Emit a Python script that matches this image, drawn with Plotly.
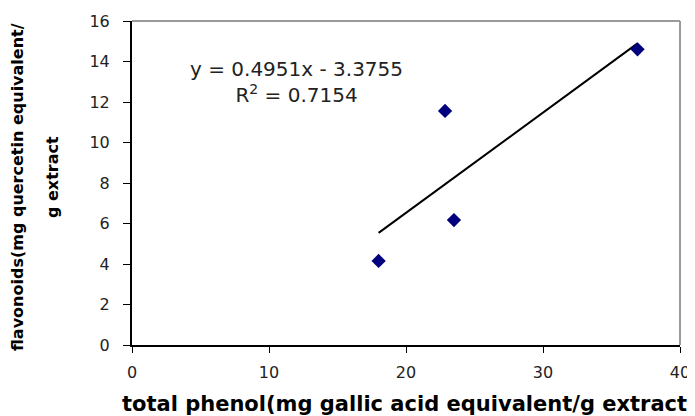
import numpy as np
import plotly.graph_objects as go

# Data
total_phenol = [18.0, 22.85, 23.5, 36.9]
flavonoids = [4.15, 11.56, 6.17, 14.6]

slope = 0.4951
intercept = -3.3755
r_squared = 0.7154

x_ticks = [0, 10, 20, 30, 40]
y_ticks = [0, 2, 4, 6, 8, 10, 12, 14, 16]

x_title = "total phenol(mg gallic acid equivalent/g extract"
y_title_1 = "flavonoids(mg quercetin equivalent/"
y_title_2 = "g extract"

trend_x = np.array([min(total_phenol), max(total_phenol)])
trend_y = slope * trend_x + intercept

# plot area in window pixels: left 132, right 680, top 21, bottom 345
PL, PR, PT, PB = 132, 680, 21, 345
PW, PH = PR - PL, PB - PT


def px(xp):
    return (xp - PL) / PW


def py(yp):
    return (PB - yp) / PH


fig = go.Figure()
fig.add_trace(go.Scatter(
    x=trend_x, y=trend_y, mode="lines",
    line=dict(color="black", width=2), showlegend=False, hoverinfo="skip"))
fig.add_trace(go.Scatter(
    x=total_phenol, y=flavonoids, mode="markers",
    marker=dict(symbol="diamond", size=11, color="#00007f"),
    showlegend=False))

fig.update_layout(
    width=695, height=416,
    margin=dict(l=PL - 8, r=695 + 8 - PR, t=PT - 8, b=416 + 8 - PB, pad=0),
    paper_bgcolor="white", plot_bgcolor="white",
    showlegend=False,
    font=dict(family="DejaVu Sans", size=16, color="black"),
    xaxis=dict(range=[0, 40], tickvals=x_ticks, ticks="outside", ticklen=6,
               tickcolor="black", showgrid=False, zeroline=False,
               showline=True, linecolor="black", linewidth=2,
               ticklabelstandoff=6, automargin=False,
               tickfont=dict(size=16, color="#222")),
    yaxis=dict(range=[0, 16], tickvals=y_ticks, ticks="outside", ticklen=7,
               tickcolor="black", showgrid=False, zeroline=False,
               showline=True, linecolor="black", linewidth=2,
               ticklabelstandoff=10, automargin=False,
               tickfont=dict(size=16, color="#222")),
    shapes=[
        dict(type="line", xref="paper", yref="paper", x0=0, x1=1, y0=1, y1=1,
             line=dict(color="#9a9a9a", width=2)),
        dict(type="line", xref="paper", yref="paper", x0=1, x1=1, y0=0, y1=1,
             line=dict(color="#9a9a9a", width=2)),
    ],
    annotations=[
        dict(text=f"y = {slope}x - {abs(intercept)}<br>R<sup>2</sup> = {r_squared}",
             xref="paper", yref="paper", x=px(296), y=py(82),
             xanchor="center", yanchor="middle", showarrow=False,
             font=dict(size=20, family="DejaVu Sans", color="#222")),
        dict(text=f"<b>{x_title}</b>", xref="paper", yref="paper",
             x=px(404), y=py(404),
             xanchor="center", yanchor="middle", showarrow=False,
             font=dict(size=21, family="DejaVu Sans", color="black")),
        dict(text=f"<b>{y_title_1}</b>", xref="paper", yref="paper",
             x=px(17), y=py(187), textangle=-90,
             xanchor="center", yanchor="middle", showarrow=False,
             font=dict(size=16, family="DejaVu Sans", color="black")),
        dict(text=f"<b>{y_title_2}</b>", xref="paper", yref="paper",
             x=px(52), y=py(177), textangle=-90,
             xanchor="center", yanchor="middle", showarrow=False,
             font=dict(size=16, family="DejaVu Sans", color="black")),
    ],
)

fig.write_html("out.html")
